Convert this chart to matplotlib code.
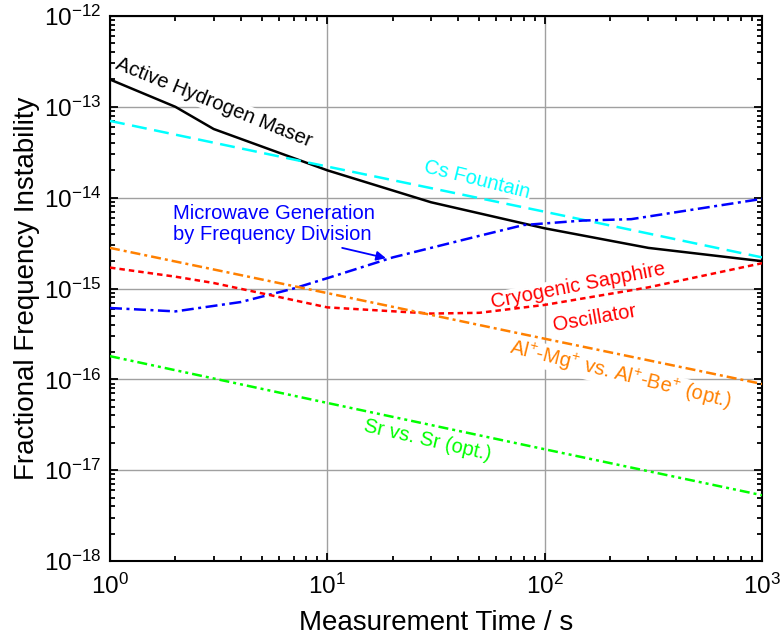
import numpy as np
import matplotlib
matplotlib.use("Agg")
import matplotlib.pyplot as plt
from matplotlib.ticker import FuncFormatter, LogLocator, NullFormatter

plt.rcParams['font.family'] = ['Liberation Sans', 'DejaVu Sans']
plt.rcParams['mathtext.default'] = 'regular'

maser_t = [1, 2, 3, 10, 30, 100, 300, 1000]
maser_y = [2.0e-13, 1.0e-13, 5.7e-14, 2.0e-14, 8.9e-15, 4.6e-15, 2.8e-15, 2.0e-15]

cs_t = [1, 10, 100, 1000]
cs_y = [7.0e-14, 2.2e-14, 7.0e-15, 2.2e-15]

mw_t = [1, 2, 4, 7, 10, 20, 50, 80, 150, 250, 1000]
mw_y = [6.1e-16, 5.6e-16, 7.1e-16, 1.0e-15, 1.3e-15, 2.2e-15, 3.8e-15, 5.0e-15,
        5.6e-15, 5.8e-15, 9.7e-15]

cso_t = [1, 2, 3, 10, 30, 50, 100, 300, 1000]
cso_y = [1.7e-15, 1.35e-15, 1.15e-15, 6.2e-16, 5.3e-16, 5.4e-16, 6.6e-16, 1.03e-15, 1.9e-15]

al_t = [1, 10, 100, 1000]
al_y = [2.8e-15, 8.9e-16, 2.8e-16, 8.9e-17]

sr_t = [1, 10, 100, 1000]
sr_y = [1.8e-16, 5.5e-17, 1.7e-17, 5.3e-18]

fig = plt.figure(figsize=(7.8, 6.4), dpi=100)
ax = fig.add_axes([0.141, 0.1234, 0.836, 0.8516])

lw = 1.8
ax.plot(maser_t, maser_y, color='black', lw=lw, zorder=3)
ax.plot(cs_t, cs_y, color='#00FFFF', lw=lw, dashes=(6, 3), zorder=3)
ax.plot(mw_t, mw_y, color='#0000FF', lw=lw, dashes=(4.8, 1.8, 1.2, 1.8), zorder=3)
ax.plot(cso_t, cso_y, color='#FF0000', lw=lw, dashes=(2.2, 1.6), zorder=3)
ax.plot(al_t, al_y, color='#FF8000', lw=lw, dashes=(4, 1.6, 1.2, 1.6), zorder=3)
ax.plot(sr_t, sr_y, color='#00FF00', lw=lw,
        dashes=(4, 1.6, 1.2, 1.6, 1.2, 1.6), zorder=3)

ax.set_xscale('log')
ax.set_yscale('log')
ax.set_xlim(1, 1000)
ax.set_ylim(1e-18, 1e-12)

ax.set_axisbelow(True)
ax.grid(True, which='major', color='#a0a0a0', lw=1.0)

fmt = FuncFormatter(lambda v, p: r'$10^{%d}$' % int(round(np.log10(v))))
ax.xaxis.set_major_formatter(fmt)
ax.yaxis.set_major_formatter(fmt)
ax.yaxis.set_major_locator(LogLocator(base=10, numticks=10))
ax.yaxis.set_minor_locator(LogLocator(base=10, subs=np.arange(2, 10), numticks=20))
ax.yaxis.set_minor_formatter(NullFormatter())
ax.xaxis.set_minor_formatter(NullFormatter())

ax.tick_params(which='both', direction='in', top=True, right=True, width=1.3,
               labelsize=17.5)
ax.tick_params(which='major', length=6)
ax.tick_params(axis='y', which='major', pad=6)
ax.tick_params(axis='x', which='major', pad=9)
ax.tick_params(which='minor', length=3.5)
for s in ax.spines.values():
    s.set_linewidth(1.5)

ax.set_xlabel('Measurement Time / s', fontsize=20, labelpad=8)
ax.set_ylabel('Fractional Frequency Instability', fontsize=20, labelpad=3)

box = dict(facecolor='white', edgecolor='none', pad=0.5)
fs = 14.5
ax.text(3.0, 1.12e-13, 'Active Hydrogen Maser', color='black', fontsize=fs,
        rotation=-22, ha='center', va='center', bbox=box, zorder=2)
ax.text(49, 1.56e-14, 'Cs Fountain', color='#00FFFF', fontsize=fs,
        rotation=-14, ha='center', va='center', bbox=box, zorder=2)
ax.text(1.95, 5.1e-15, 'Microwave Generation\nby Frequency Division',
        color='#0000FF', fontsize=fs, ha='left', va='center', linespacing=1.1,
        zorder=2)
ax.annotate('', xy=(18.6, 2.16e-15), xytext=(11.7, 2.8e-15),
            arrowprops=dict(arrowstyle='-|>', color='#0000FF', lw=1.3,
                            mutation_scale=14, shrinkA=0, shrinkB=0))
ax.text(142, 1.06e-15, 'Cryogenic Sapphire', color='#FF0000', fontsize=fs,
        rotation=11, ha='center', va='center', bbox=box, zorder=2)
ax.text(169, 4.7e-16, 'Oscillator', color='#FF0000', fontsize=fs,
        rotation=10, ha='center', va='center', bbox=box, zorder=2)
ax.text(222, 1.11e-16, r'Al$^{+}$-Mg$^{+}$ vs. Al$^{+}$-Be$^{+}$ (opt.)',
        color='#FF8000', fontsize=fs, rotation=-14, ha='center', va='center',
        bbox=box, zorder=2)
ax.text(29, 2.14e-17, 'Sr vs. Sr (opt.)', color='#00FF00', fontsize=fs,
        rotation=-13, ha='center', va='center', bbox=box, zorder=2)

fig.savefig('out.png', dpi=100)
